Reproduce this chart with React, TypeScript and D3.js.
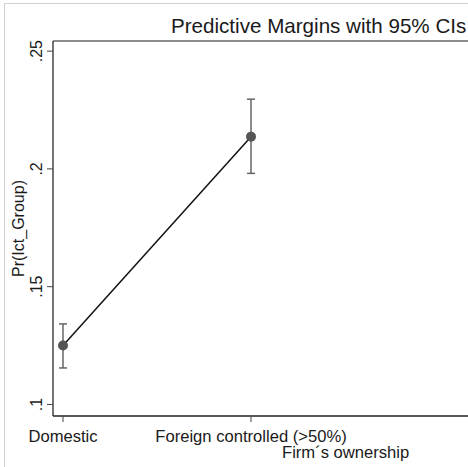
import React from "react";
import { scaleLinear, scalePoint, line } from "d3";

const categories = ["Domestic", "Foreign controlled (>50%)"];
const margins = [0.125, 0.2137];
const ciLow = [0.1155, 0.1981];
const ciHigh = [0.1342, 0.2296];
const yTicks = [0.1, 0.15, 0.2, 0.25];
const yTickLabels = [".1", ".15", ".2", ".25"];

const W = 468;
const H = 467;
const plot = { left: 53, top: 41, bottom: 416 };
const font = "'Liberation Sans', Arial, sans-serif";

export default function App() {
  const x = scalePoint<string>().domain(categories).range([63, 251]);
  const y = scaleLinear().domain([0.0951, 0.2543]).range([plot.bottom, plot.top]);

  const pts = categories.map((c, i) => [x(c) ?? 0, y(margins[i])] as [number, number]);
  const path = line()(pts) ?? "";

  return (
    <div style={{ position: "fixed", left: 0, top: 0 }}>
      <svg width={W} height={H} style={{ display: "block", background: "#fff" }}>
        {/* outer frame */}
        <line x1={4.5} y1={3.5} x2={W} y2={3.5} stroke="#cfcfcf" strokeWidth={1} />
        <line x1={4.5} y1={3.5} x2={4.5} y2={H} stroke="#cfcfcf" strokeWidth={1} />

        {/* title */}
        <text x={171} y={33} fontFamily={font} fontSize={20.6} fill="#1a1a1a">
          Predictive Margins with 95% CIs
        </text>

        {/* plot frame */}
        <line x1={plot.left} y1={plot.top} x2={W} y2={plot.top} stroke="#666" strokeWidth={1.5} />
        <line x1={plot.left} y1={plot.top} x2={plot.left} y2={plot.bottom} stroke="#444" strokeWidth={1.5} />
        <line x1={plot.left} y1={plot.bottom} x2={W} y2={plot.bottom} stroke="#222" strokeWidth={1.5} />

        {/* y ticks */}
        {yTicks.map((t, i) => (
          <g key={`yt-${i}`}>
            <line x1={plot.left - 6} x2={plot.left} y1={y(t)} y2={y(t)} stroke="#444" strokeWidth={1} />
            <text
              transform={`translate(42,${y(t)}) rotate(-90)`}
              textAnchor="middle"
              fontFamily={font}
              fontSize={16}
              fill="#1a1a1a"
            >
              {yTickLabels[i]}
            </text>
          </g>
        ))}

        {/* y title */}
        <text
          transform={`translate(24,${(plot.top + plot.bottom) / 2}) rotate(-90)`}
          textAnchor="middle"
          fontFamily={font}
          fontSize={16}
          fill="#1a1a1a"
        >
          Pr(Ict_Group)
        </text>

        {/* x ticks */}
        {categories.map((c) => (
          <g key={`xt-${c}`}>
            <line x1={x(c)} x2={x(c)} y1={plot.bottom} y2={plot.bottom + 6} stroke="#444" strokeWidth={1} />
            <text x={x(c)} y={442} textAnchor="middle" fontFamily={font} fontSize={16.6} fill="#1a1a1a">
              {c}
            </text>
          </g>
        ))}

        {/* x title */}
        <text x={282} y={458} fontFamily={font} fontSize={16.6} fill="#1a1a1a">
          Firm´s ownership
        </text>

        {/* CIs */}
        {categories.map((c, i) => {
          const cx = x(c) ?? 0;
          return (
            <g key={`ci-${c}`} stroke="#666" strokeWidth={1.5}>
              <line x1={cx} x2={cx} y1={y(ciLow[i])} y2={y(ciHigh[i])} />
              <line x1={cx - 4} x2={cx + 4} y1={y(ciLow[i])} y2={y(ciLow[i])} />
              <line x1={cx - 4} x2={cx + 4} y1={y(ciHigh[i])} y2={y(ciHigh[i])} />
            </g>
          );
        })}

        {/* connecting line */}
        <path d={path} fill="none" stroke="#111" strokeWidth={1.5} />

        {/* points */}
        {pts.map((p, i) => (
          <circle key={`pt-${i}`} cx={p[0]} cy={p[1]} r={5} fill="#555" />
        ))}
      </svg>
    </div>
  );
}
